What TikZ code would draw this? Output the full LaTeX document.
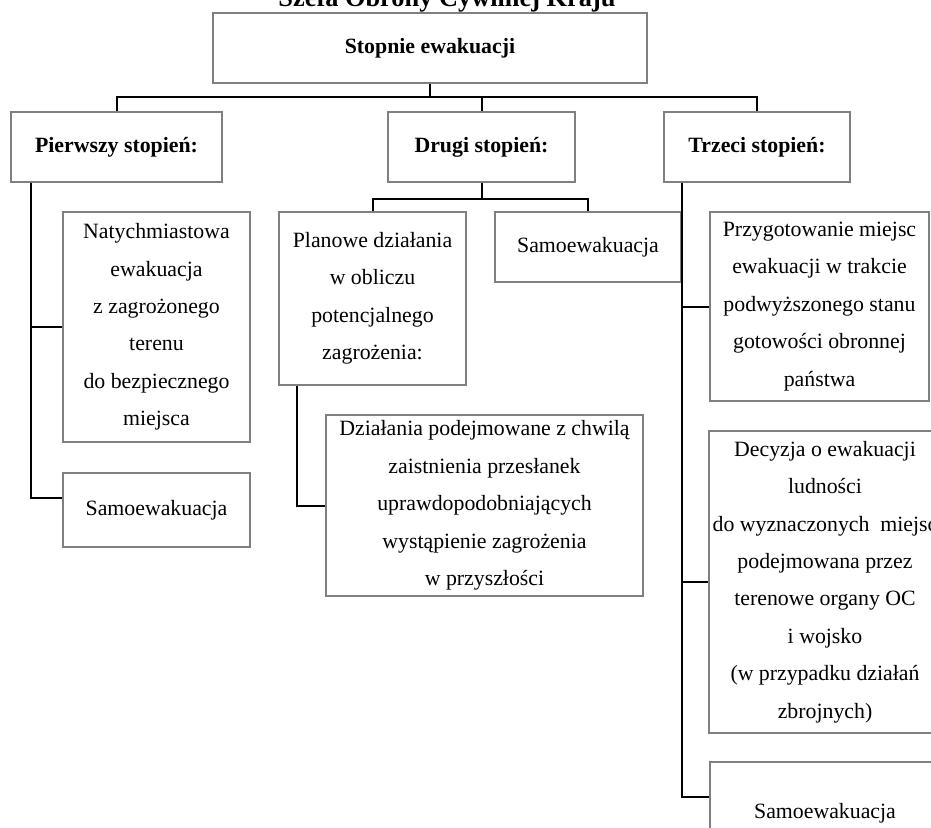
\documentclass[tikz,border=0pt]{standalone}
\usepackage{fontspec}
\setmainfont{Liberation Serif}

\begin{document}
\begin{tikzpicture}[x=0.55pt, y=-0.55pt,
        box/.style 2 args={draw=black!50, line width=0.6pt, align=center,
            inner xsep=2pt, inner ysep=1pt,
            minimum width=#1*0.55pt, minimum height=#2*0.55pt,
            font=\fontsize{12}{20.6}\selectfont},
        stage/.style 2 args={box={#1}{#2}, font=\fontsize{12}{14}\selectfont\bfseries},
        link/.style={line width=1.1pt}]
    \useasboundingbox (0,0) rectangle (931,828);

    % naglowek
    \node[anchor=base, font=\fontsize{14.5}{16}\selectfont\bfseries] (title) at (447,7) {Szefa Obrony Cywilnej Kraju};
    \node[stage={434}{70}] (top) at (430,48) {Stopnie ewakuacji};

    % stopnie
    \node[stage={211}{70}] (p1) at (116.5,147) {Pierwszy stopień:};
    \node[stage={187}{70}] (p2) at (481.5,147) {Drugi stopień:};
    \node[stage={186}{70}] (p3) at (757,147) {Trzeci stopień:};

    % pierwszy stopien
    \node[box={187}{230}] (n1) at (156.5,327) {Natychmiastowa\\ ewakuacja\\ z zagrożonego\\ terenu\\ do bezpiecznego\\ miejsca};
    \node[box={187}{74}] (s1) at (156.5,510) {Samoewakuacja};

    % drugi stopien
    \node[box={187}{173}] (n2) at (372.5,298.5) {Planowe działania\\ w obliczu\\ potencjalnego\\ zagrożenia:};
    \node[box={186}{70}] (s2) at (588,247) {Samoewakuacja};
    \node[box={317}{181}] (d2) at (484.5,505.5) {Działania podejmowane z chwilą\\ zaistnienia przesłanek\\ uprawdopodobniających\\ wystąpienie zagrożenia\\ w przyszłości};

    % trzeci stopien
    \node[box={219}{189}] (n3) at (819.5,306.5) {Przygotowanie miejsc\\ ewakuacji w trakcie\\ podwyższonego stanu\\ gotowości obronnej\\ państwa};
    \node[box={230}{302}] (d3) at (825,582) {Decyzja o ewakuacji\\ ludności\\ do wyznaczonych\ \ miejsc\\ podejmowana przez\\ terenowe organy OC\\ i wojsko\\ (w przypadku działań\\ zbrojnych)};
    \node[box={230}{102}] (s3) at (825,813) {Samoewakuacja};

    % polaczenia
    \coordinate (b0) at (430,97);
    \draw[link] (top.south) -- (b0);
    \foreach \n in {p1,p2,p3}
        \draw[link] (b0) -| (\n.north);

    \coordinate (a1) at ([xshift=11.55pt]p1.south west);
    \draw[link] (a1) |- (n1.west);
    \draw[link] (a1) |- ([yshift=6.6pt]s1.west);

    \coordinate (b2) at ([yshift=-8.8pt]p2.south);
    \draw[link] (p2.south) -- (b2);
    \draw[link] (n2.north) |- (b2) -| (s2.north);
    \coordinate (a2) at ([xshift=10.45pt]n2.south west);
    \draw[link] (a2) |- (d2.west);

    \coordinate (a3) at ([xshift=10.45pt]p3.south west);
    \draw[link] (a3) |- (n3.west);
    \draw[link] (a3) |- (d3.west);
    \draw[link] (a3) |- ([yshift=8.8pt]s3.west);
\end{tikzpicture}
\end{document}
